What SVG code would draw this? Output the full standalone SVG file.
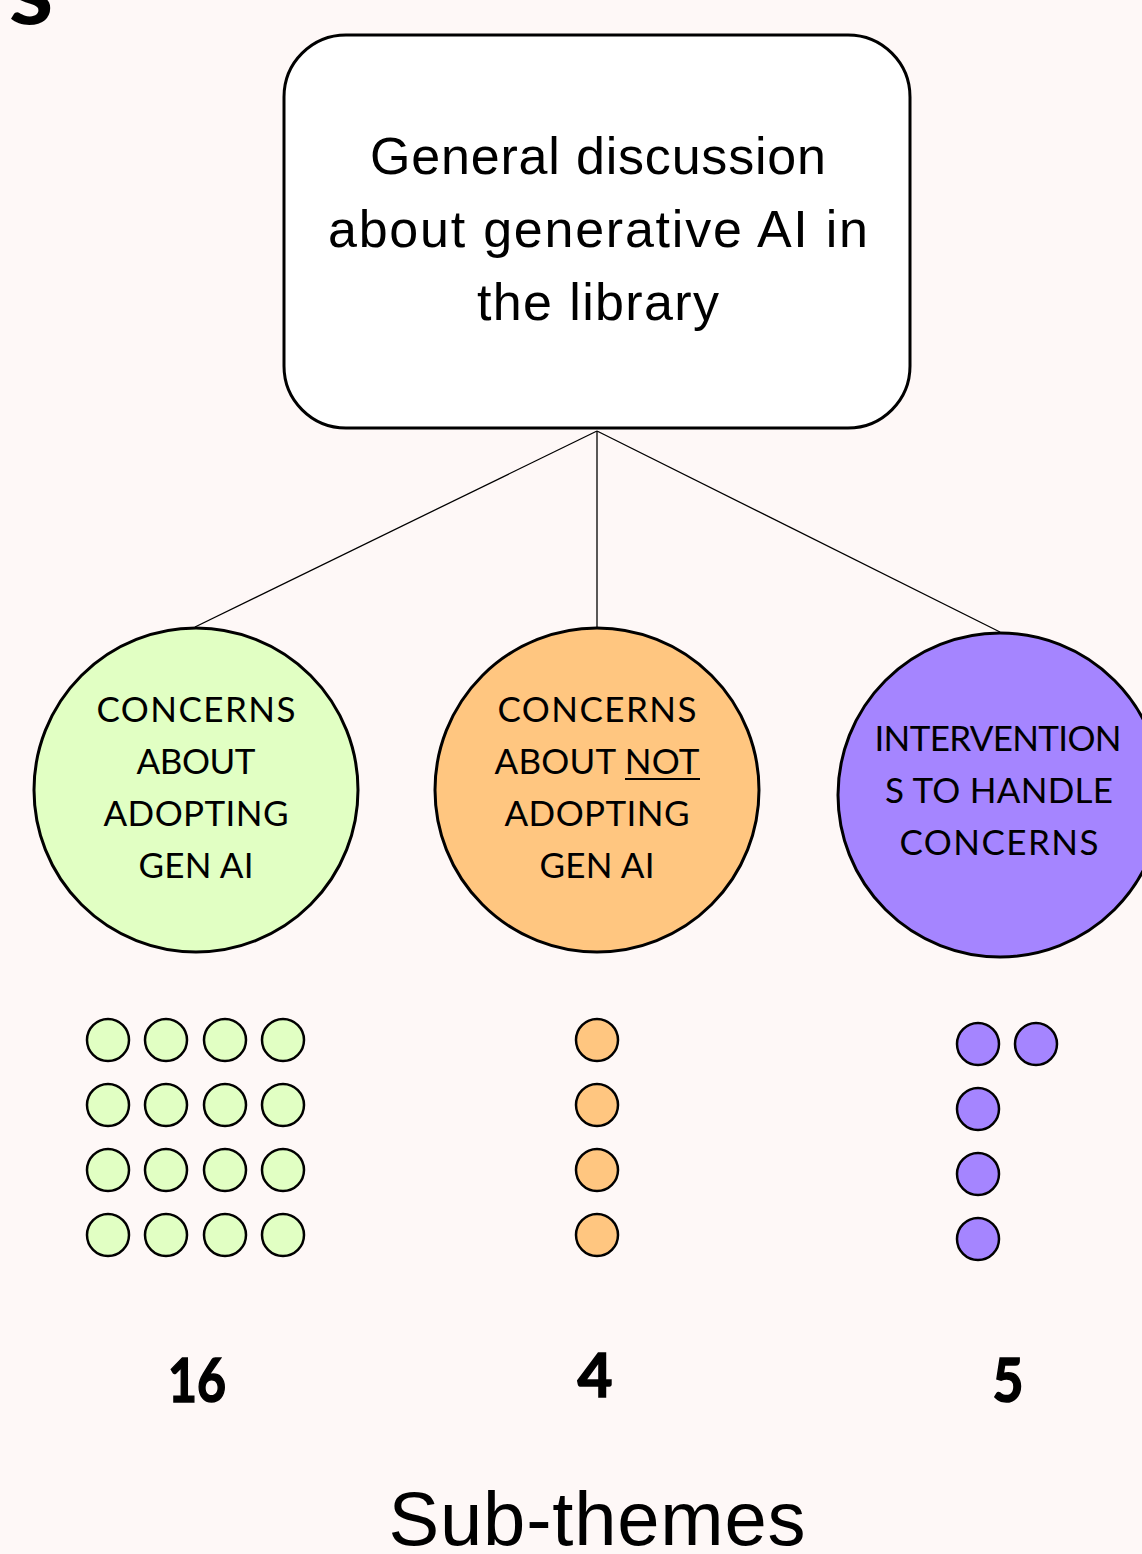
<svg xmlns="http://www.w3.org/2000/svg" width="1142" height="1554" viewBox="0 0 1142 1554">
<style>
.t{font-family:"Lato","Liberation Sans",sans-serif;fill:#000;text-anchor:middle}
.a{font-family:"Liberation Sans","Lato",sans-serif}
.big{font-size:52px}
.lab{font-size:35px}
.num{font-size:62px;font-weight:bold;stroke:#000;stroke-width:1.6}
.dot{stroke:#000;stroke-width:2.5}
.node{stroke:#000;stroke-width:3}
.g{fill:#E1FFC3}.o{fill:#FFC680}.p{fill:#A585FF}
</style>
<rect width="1142" height="1554" fill="#FEF8F7"/>
<text class="t" x="31" y="24" font-size="100" font-weight="bold" textLength="45" lengthAdjust="spacingAndGlyphs">s</text>
<g id="connectors" stroke="#000" stroke-width="1.3" fill="none">
<line x1="597" y1="431" x2="195" y2="627"/>
<line x1="597" y1="431" x2="597" y2="628"/>
<line x1="597" y1="431" x2="1000" y2="632"/>
</g>
<g id="root">
<rect x="284" y="35" width="626" height="393" rx="62" fill="#fff" class="node"/>
<text class="t a big" x="598" y="174" textLength="456">General discussion</text>
<text class="t a big" x="598" y="247" textLength="540">about generative AI in</text>
<text class="t a big" x="598" y="320" textLength="242">the library</text>
</g>
<g id="adopting">
<circle cx="196" cy="790" r="162" class="node g"/>
<text class="t lab" x="196" y="722" textLength="199">CONCERNS</text>
<text class="t lab" x="196" y="774" textLength="119">ABOUT</text>
<text class="t lab" x="196" y="826" textLength="185">ADOPTING</text>
<text class="t lab" x="196" y="878" textLength="115">GEN AI</text>
</g>
<g id="not-adopting">
<circle cx="597" cy="790" r="162" class="node o"/>
<text class="t lab" x="597" y="722" textLength="199">CONCERNS</text>
<text class="t lab" x="597" y="774" textLength="205">ABOUT NOT</text>
<line x1="625" y1="779" x2="700" y2="779" stroke="#000" stroke-width="2.2"/>
<text class="t lab" x="597" y="826" textLength="185">ADOPTING</text>
<text class="t lab" x="597" y="878" textLength="115">GEN AI</text>
</g>
<g id="interventions">
<circle cx="1000" cy="795" r="162" class="node p"/>
<text class="t lab" x="998" y="751" textLength="247">INTERVENTION</text>
<text class="t lab" x="999" y="803" textLength="228">S TO HANDLE</text>
<text class="t lab" x="999" y="855" textLength="199">CONCERNS</text>
</g>
<g id="dots-green" class="g">
<circle cx="108" cy="1040" r="21" class="dot"/><circle cx="166" cy="1040" r="21" class="dot"/><circle cx="225" cy="1040" r="21" class="dot"/><circle cx="283" cy="1040" r="21" class="dot"/>
<circle cx="108" cy="1105" r="21" class="dot"/><circle cx="166" cy="1105" r="21" class="dot"/><circle cx="225" cy="1105" r="21" class="dot"/><circle cx="283" cy="1105" r="21" class="dot"/>
<circle cx="108" cy="1170" r="21" class="dot"/><circle cx="166" cy="1170" r="21" class="dot"/><circle cx="225" cy="1170" r="21" class="dot"/><circle cx="283" cy="1170" r="21" class="dot"/>
<circle cx="108" cy="1235" r="21" class="dot"/><circle cx="166" cy="1235" r="21" class="dot"/><circle cx="225" cy="1235" r="21" class="dot"/><circle cx="283" cy="1235" r="21" class="dot"/>
</g>
<g id="dots-orange" class="o">
<circle cx="597" cy="1040" r="21" class="dot"/><circle cx="597" cy="1105" r="21" class="dot"/><circle cx="597" cy="1170" r="21" class="dot"/><circle cx="597" cy="1235" r="21" class="dot"/>
</g>
<g id="dots-purple" class="p">
<circle cx="978" cy="1044" r="21" class="dot"/><circle cx="1036" cy="1044" r="21" class="dot"/><circle cx="978" cy="1109" r="21" class="dot"/><circle cx="978" cy="1174" r="21" class="dot"/><circle cx="978" cy="1239" r="21" class="dot"/>
</g>
<g id="counts">
<text class="t num" x="197" y="1402" textLength="58" lengthAdjust="spacingAndGlyphs">16</text>
<text class="t num" x="595" y="1397" textLength="35" lengthAdjust="spacingAndGlyphs">4</text>
<text class="t num" x="1008" y="1402" textLength="31" lengthAdjust="spacingAndGlyphs">5</text>
</g>
<text class="t a" x="597" y="1545" font-size="76" textLength="417">Sub-themes</text>
</svg>
